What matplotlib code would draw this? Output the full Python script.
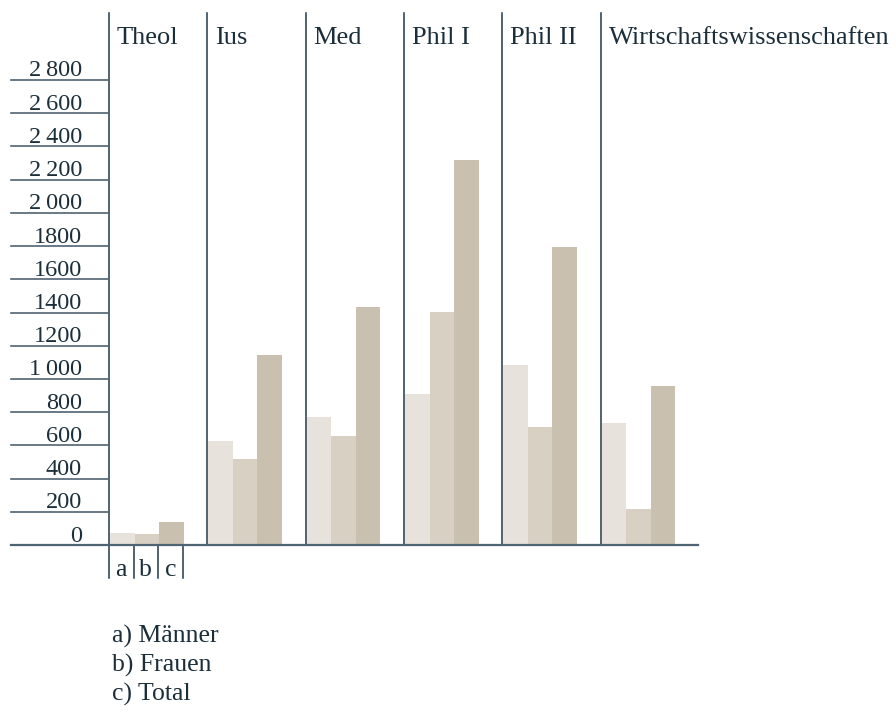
import matplotlib
matplotlib.use("Agg")
import matplotlib.pyplot as plt

# data
kategorien = ['Theol', 'Ius', 'Med', 'Phil I', 'Phil II', 'Wirtschaftswissenschaften']
maenner = [72, 626, 770, 908, 1083, 734]
frauen = [66, 517, 656, 1401, 710, 217]
total = [138, 1143, 1432, 2316, 1792, 956]
ywerte = [0, 200, 400, 600, 800, 1000, 1200, 1400, 1600, 1800, 2000, 2200, 2400, 2600, 2800]
ylabels = ['0', '200', '400', '600', '800', '1\u2009000', '1200', '1400', '1600', '1800',
           '2\u2009000', '2\u2009200', '2\u2009400', '2\u2009600', '2\u2009800']
kurz = ['a', 'b', 'c']
legende = ['a) Männer', 'b) Frauen', 'c) Total']

farben = ['#e7e3dc', '#d8d0c3', '#c9c0af']
linie = '#22394a'
linie2 = '#4f6472'
textfarbe = '#1b2e3a'
plt.rcParams['font.family'] = ['Liberation Serif', 'DejaVu Serif']

W, H = 896, 713
fig = plt.figure(figsize=(W / 100, H / 100), dpi=100)
ax = fig.add_axes([109 / W, (H - 545) / H, 590 / W, 465 / H])
ax.set_xlim(0, len(kategorien))
ax.set_ylim(0, 2800)
ax.axis('off')

px = 2800 / 465  # value per pixel
breite = 0.25
for k, reihe in enumerate([maenner, frauen, total]):
    xs = [i + k * breite + 0.01 for i in range(len(kategorien))]
    ax.bar(xs, reihe, width=breite, align='edge', color=farben[k], linewidth=0, zorder=1)

# category separators and headers
oben = (545 - 13) * px
for i, name in enumerate(kategorien):
    unten = -33 * px if i == 0 else 0
    ax.plot([i, i], [unten, oben], color=linie, lw=1.1, clip_on=False, zorder=3)
    ax.text(i + 0.08, (545 - 44) * px, name, fontsize=19, color=textfarbe,
            ha='left', va='baseline', clip_on=False)

# baseline
ax.plot([-1.0, len(kategorien) - 0.01], [0, 0], color=linie2, lw=1.6, clip_on=False, zorder=3)

# y tick rules and labels
for v, lab in zip(ywerte, ylabels):
    ax.plot([-1.0, 0], [v, v], color=linie2, lw=1.2, clip_on=False, zorder=3)
    ax.text(-0.275, v + 3.5 * px, lab, fontsize=17.5, color=textfarbe,
            ha='right', va='baseline', clip_on=False)

# a|b|c markers under first group
for k in range(1, 4):
    ax.plot([k * breite, k * breite], [0, -33 * px], color=linie, lw=1.1, clip_on=False)
for k, s in enumerate(kurz):
    ax.text(k * breite + breite / 2, -31 * px, s, fontsize=18.5, color=textfarbe,
            ha='center', va='baseline', clip_on=False)

# legend text
for j, s in enumerate(legende):
    fig.text(112 / W, 1 - (643 + 29 * j) / H, s, fontsize=18.5, color=textfarbe,
             ha='left', va='baseline')

fig.savefig('out.png', dpi=100)
